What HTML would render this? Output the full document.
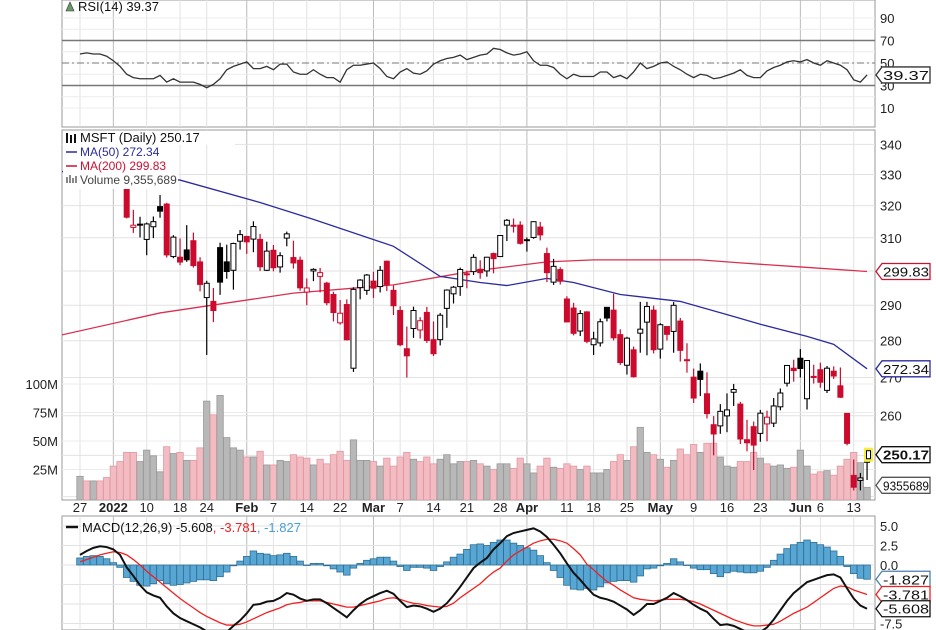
<!DOCTYPE html>
<html><head><meta charset="utf-8">
<style>
html,body{margin:0;padding:0;background:#fff;}
svg{display:block;font-family:"Liberation Sans",Arial,sans-serif;}
</style></head>
<body>
<svg id="chart" width="936" height="630" viewBox="0 0 936 630">
<defs>
<clipPath id="cpPrice"><rect x="62" y="130" width="813" height="370"/></clipPath>
<clipPath id="cpMacd"><rect x="62" y="516" width="813" height="114"/></clipPath>
<clipPath id="cpRsi"><rect x="62" y="0" width="813" height="127"/></clipPath>
</defs>
<g id="grid"></g>
<g id="rsiG"></g>
<g id="volG" clip-path="url(#cpPrice)"></g>
<g id="maG" clip-path="url(#cpPrice)"></g>
<g id="candleG" clip-path="url(#cpPrice)"></g>
<g id="macdG"></g>
<g id="axisG"></g>
<g id="legendG"></g>
</svg>
<script>
// ---------- DATA ----------
const opens=[335.5,343.2,341.3,341.9,338.5,335.4,334.8,325.9,313.2,314.2,309.5,313.4,319.7,320.5,304.3,304.1,306.3,309.1,302.7,292.2,291.1,307.0,302.7,300.2,308.95,310.4,309.6,309.5,300.2,306.2,301.2,309.9,304.0,303.2,293.8,300.0,298.4,296.4,293.1,285.0,290.2,272.5,295.1,294.3,297.0,295.4,302.9,294.3,288.5,277.8,283.4,283.0,287.96,280.3,280.3,289.1,293.3,295.4,298.9,299.8,300.5,300.0,305.2,304.3,313.9,313.8,313.9,309.4,310.1,313.3,305.2,296.7,300.4,291.8,289.2,282.7,288.1,278.9,279.4,289.4,288.6,281.7,273.3,277.5,282.1,285.2,288.6,277.7,283.96,282.6,285.5,274.8,270.1,271.7,265.7,257.7,257.4,259.96,266.1,263.0,253.9,257.2,255.5,257.9,258.1,262.3,268.5,272.5,275.2,264.4,270.3,272.1,266.6,271.7,267.8,260.6,245.1,243.9,248.3];
const highs=[342.5,343.8,344.3,343.1,339.4,338.0,335.2,326.1,318.7,316.5,314.7,316.6,323.4,320.9,310.8,309.8,313.9,311.6,304.1,297.1,294.99,308.5,307.9,308.5,312.4,310.6,315.1,311.2,308.8,307.8,305.6,311.9,309.1,304.3,297.8,300.8,300.9,296.8,293.9,291.5,291.7,295.2,297.6,299.1,299.8,301.5,303.1,295.7,289.7,283.96,289.6,286.6,289.5,285.4,287.8,294.6,295.6,301.0,300.1,305.0,303.2,304.2,305.5,310.8,315.8,315.95,315.1,310.1,315.1,314.9,307.0,303.6,301.1,292.6,290.7,288.6,288.3,282.5,286.2,289.4,293.3,283.2,281.1,278.4,290.97,290.98,289.9,284.9,284.1,290.9,286.4,279.3,272.4,273.8,271.4,259.9,263.0,265.8,268.3,263.6,258.95,258.5,261.5,261.3,264.6,267.1,273.3,274.8,277.7,274.65,273.45,274.0,273.1,273.0,272.7,260.6,249.0,245.7,251.8];
const lows=[335.4,340.3,339.7,338.8,335.9,329.8,326.1,315.98,311.5,310.1,304.7,309.9,316.2,304.0,303.8,301.7,302.7,301.0,294.0,276.1,285.2,293.0,297.7,294.5,306.4,305.1,305.6,299.96,299.97,299.9,299.5,307.4,300.7,294.2,290.0,297.0,293.7,290.0,285.4,284.5,280.1,271.5,291.7,293.0,292.1,293.7,294.1,287.2,278.5,270.0,280.8,280.6,279.4,275.8,278.7,283.6,290.5,292.7,294.9,298.8,297.7,298.3,299.3,304.3,309.0,311.6,307.9,305.8,309.7,309.2,296.7,295.9,296.0,285.2,281.5,281.3,279.3,276.1,278.4,285.4,280.1,273.4,270.8,270.0,276.7,276.0,276.5,275.1,280.1,276.7,274.3,271.3,263.3,265.1,259.3,250.0,255.4,255.8,262.5,252.8,251.0,246.4,253.4,253.5,257.1,261.4,267.6,268.9,270.0,261.6,268.4,267.3,265.9,269.6,264.6,252.5,241.5,241.5,244.0];
const closes=[342.45,341.25,341.95,339.32,336.32,334.75,329.01,316.38,313.88,314.04,314.27,314.98,318.27,304.80,310.20,302.65,303.33,301.60,296.03,296.37,288.49,296.71,299.84,308.26,310.98,308.76,313.46,301.25,305.94,300.95,304.56,311.21,302.38,295.04,295.00,300.47,299.50,290.73,287.93,287.72,280.27,294.59,297.31,298.79,294.95,300.19,295.92,289.86,278.91,275.85,288.50,285.59,280.07,276.44,287.15,294.39,295.22,300.43,299.16,304.06,299.49,304.10,303.68,310.70,315.41,313.86,308.31,309.42,314.97,310.88,299.50,301.37,296.97,285.26,282.06,287.62,279.83,280.52,285.30,286.36,280.81,274.03,280.72,270.22,283.22,289.63,277.52,284.47,281.78,289.98,277.35,274.73,264.58,269.50,260.55,255.35,261.12,261.50,266.82,254.08,253.14,252.56,260.65,259.62,262.52,265.90,273.24,271.87,272.42,274.58,270.02,268.75,272.50,270.41,264.79,252.99,242.26,244.49,250.17];
const volumes=[19,15,15,15,18,28,32,40,40,32,42,37,23,45,39,40,33,33,44,85,73,90,53,44,42,36,36,41,29,29,33,32,38,36,35,29,34,30,38,41,33,51,33,33,32,28,35,28,36,40,34,32,36,30,34,38,30,32,32,33,30,28,25,30,30,26,35,30,22,28,35,27,26,30,28,25,28,22,22,25,32,38,33,45,62,40,38,34,27,33,43,38,47,40,48,48,36,28,27,32,32,40,35,30,28,29,26,27,42,28,21,23,24,20,28,34,40,31,9.36];
const ma50Idx=[-3,15,27,35,47,54,60,64,70,74,81,90,98,102,109,113,118];
const ma50Val=[331,328.2,321.0,315.7,307.4,298.4,296.6,295.7,297.8,296.6,293.1,291.1,286.8,284.6,281.2,279.0,272.34];
const ma200Idx=[-3,12,32,47,59,64,70,77,93,99,108,118];
const ma200Val=[281.5,287.8,293.5,295.9,300.0,301.2,302.7,303.3,303.3,302.4,301.2,299.83];
const rsiVals=[58,59,58,58,56,52,47,40,37,36,36,36,39,33,36,33,33,33,31,28,31,36,44,47,49,51,45,45,47,44,49,49,42,40,40,44,40,37,37,33,44,48,48,49,50,45,38,36,42,45,41,40,43,49,52,54,55,57,53,55,57,58,63,62,59,57,58,60,52,48,48,46,40,36,40,38,38,38,42,42,37,39,36,42,50,45,47,50,51,47,44,40,37,40,39,36,37,39,41,44,39,37,37,43,46,48,51,52,51,53,50,48,52,50,48,44,35,33,39.37];
const macdVals=[1.3,1.8,2.2,2.4,2.3,2.0,1.3,-0.3,-1.4,-2.6,-3.5,-3.9,-4.2,-5.3,-6.2,-6.8,-7.2,-7.6,-8.0,-8.5,-9.0,-8.9,-8.6,-7.8,-7.1,-6.2,-5.1,-5.0,-4.7,-4.6,-4.2,-3.6,-3.8,-4.3,-4.6,-4.4,-4.4,-4.9,-5.5,-6.1,-6.7,-5.8,-5.0,-4.4,-4.0,-3.6,-3.3,-3.7,-4.6,-5.4,-5.2,-5.3,-5.6,-6.0,-5.6,-4.9,-3.9,-2.8,-1.6,-0.4,0.3,0.9,2.0,2.8,3.7,4.1,4.3,4.5,4.7,4.3,3.6,2.6,1.5,0.2,-1.0,-1.9,-2.9,-3.8,-4.2,-4.4,-4.7,-5.2,-5.7,-6.4,-5.8,-5.0,-5.0,-4.6,-4.2,-3.6,-4.0,-4.5,-5.1,-5.6,-6.0,-6.9,-7.7,-7.6,-7.8,-8.2,-8.6,-8.8,-8.6,-8.0,-7.0,-5.8,-4.6,-3.6,-2.9,-2.2,-1.9,-1.6,-1.3,-1.2,-1.6,-3.0,-4.3,-5.2,-5.608];
const signalVals=[0.4,0.7,1.0,1.3,1.5,1.7,1.6,1.3,0.7,0.0,-0.8,-1.5,-2.2,-2.9,-3.6,-4.3,-4.9,-5.5,-6.1,-6.6,-7.0,-7.4,-7.7,-7.7,-7.6,-7.3,-6.9,-6.5,-6.1,-5.8,-5.5,-5.1,-4.9,-4.8,-4.6,-4.6,-4.6,-4.8,-5.0,-5.2,-5.4,-5.4,-5.2,-5.0,-4.8,-4.6,-4.3,-4.2,-4.4,-4.7,-4.9,-5.0,-5.2,-5.3,-5.4,-5.3,-4.9,-4.2,-3.6,-3.0,-2.4,-1.6,-0.9,-0.4,0.5,1.3,1.8,2.3,2.8,3.1,3.3,3.3,3.1,2.8,2.1,1.3,0.1,-0.6,-1.4,-2.1,-2.6,-3.2,-3.7,-4.2,-4.4,-4.5,-4.6,-4.5,-4.4,-4.4,-4.4,-4.5,-4.7,-5.0,-5.4,-5.8,-6.2,-6.6,-7.0,-7.3,-7.6,-7.8,-7.8,-7.7,-7.6,-7.2,-6.7,-6.2,-5.8,-5.4,-4.8,-4.2,-3.6,-3.0,-2.7,-2.8,-3.2,-3.5,-3.781];
const tickIdx=[0,5,10,15,19,25,29,34,39,44,48,53,58,63,67,73,77,82,87,92,97,102,108,111,116];
const tickLabels=["27","2022","10","18","24","Feb","7","14","22","Mar","7","14","21","28","Apr","11","18","25","May","9","16","23","Jun","6","13"];
const monthTicks=[5,25,44,67,87,108];
const priceTicks=[340,330,320,310,300,290,280,270,260,250,240];
const volTicks=[25,50,75,100];
const rsiTicks=[90,70,50,30,10];
const macdTicks=[5,2.5,0,-2.5,-5,-7.5];

// ---------- SCALES ----------
const L=62,R=875;
const xi=i=>80+i*6.67;
const yP=p=>6040.9-1011.6*Math.log(p);
const yV=v=>498-v*1.14;
const yR=r=>63-(r-50)*1.125;
const yM=m=>565-m*7.8;
const NS="http://www.w3.org/2000/svg";
function mk(tag,attrs,parent){const e=document.createElementNS(NS,tag);for(const k in attrs)e.setAttribute(k,attrs[k]);parent.appendChild(e);return e;}
const G=id=>document.getElementById(id);
const grid=G('grid'),axis=G('axisG');

// ---------- GRID ----------
// panel frames
[[0,127],[130,500],[516,630]].forEach(([t,b])=>{
  const r=mk('rect',{x:L,y:t,width:R-L,height:b-t,fill:'#fff',stroke:'#999','stroke-width':1},grid);
  
  
});
// vertical gridlines
tickIdx.forEach(i=>{
  const dark=monthTicks.includes(i);
  [[0,127],[130,500],[516,630]].forEach(([t,b])=>{
    const l=mk('line',{x1:xi(i),x2:xi(i),y1:t,y2:b,stroke:dark?'#bbb':'#e2e2e2','stroke-width':1},grid);
    
    
  });
});
// horizontal price gridlines
priceTicks.forEach(p=>{const y=yP(p);if(y>130&&y<500){const l=mk('line',{x1:L,x2:R,y1:y,y2:y,stroke:'#e2e2e2'},grid);
  
  }});
volTicks.forEach(v=>{const y=yV(v);const l=mk('line',{x1:L,x2:R,y1:y,y2:y,stroke:'#ececec'},grid);
  
  });
for(let r=10;r<=90;r+=10){const l=mk('line',{x1:L,x2:R,y1:yR(r),y2:yR(r),stroke:'#ececec'},grid);
  
  }
macdTicks.forEach(m=>{const l=mk('line',{x1:L,x2:R,y1:yM(m),y2:yM(m),stroke:'#e2e2e2'},grid);
  
  });

// ---------- RSI ----------
const rsiG=G('rsiG');
[70,30].forEach(v=>{const l=mk('line',{x1:L,x2:R,y1:yR(v),y2:yR(v),stroke:'#777','stroke-width':1.4},rsiG);
  
  });
const l50=mk('line',{x1:L,x2:R,y1:yR(50),y2:yR(50),stroke:'#777','stroke-dasharray':'7,3,2,3'},rsiG);


const rsiPath=mk('polyline',{points:rsiVals.map((v,i)=>xi(i)+','+yR(v)).join(' '),fill:'none',stroke:'#333','stroke-width':1.3,'clip-path':'url(#cpRsi)'},rsiG);



// ---------- VOLUME ----------
const volG=G('volG');
volumes.forEach((v,i)=>{
  const up=i===0?closes[i]>=opens[i]:closes[i]>=closes[i-1];
  const b=mk('rect',{x:xi(i)-3.2,y:yV(v),width:6.4,height:498-yV(v)+2,fill:up?'#b8b8b8':'#f2bcc2',stroke:up?'#999':'#e09aa3','stroke-width':0.8},volG);
  
  
});

// ---------- MOVING AVERAGES ----------
const maG=G('maG');
const m200=mk('polyline',{points:ma200Idx.map((d,k)=>xi(d)+','+yP(ma200Val[k])).join(' '),fill:'none',stroke:'#d9304f','stroke-width':1.3},maG);


const m50=mk('polyline',{points:ma50Idx.map((d,k)=>xi(d)+','+yP(ma50Val[k])).join(' '),fill:'none',stroke:'#2b2ba0','stroke-width':1.3},maG);



// ---------- CANDLES ----------
const cg=G('candleG');
closes.forEach((c,i)=>{
  const o=opens[i],h=highs[i],lo=lows[i];
  const prev=i===0?o:closes[i-1];
  const col=c<prev?'#cc0a2d':'#000';
  const filled=c<o;
  const x=xi(i);
  const w=mk('line',{x1:x,x2:x,y1:yP(h),y2:yP(lo),stroke:col,'stroke-width':1.2},cg);
  
  
  const top=yP(Math.max(o,c)),bot=yP(Math.min(o,c));
  const b=mk('rect',{x:x-2.5,y:top,width:5,height:Math.max(1,bot-top),fill:filled?col:'#fff',stroke:col,'stroke-width':1},cg);
  
  
});

// ---------- MACD ----------
const mg=G('macdG');
const hg=mk('g',{'clip-path':'url(#cpMacd)'},mg);
macdVals.forEach((m,i)=>{
  const h=m-signalVals[i];
  const y0=yM(0),y1=yM(h);
  const b=mk('rect',{x:xi(i)-3.3,y:Math.min(y0,y1),width:6.6,height:Math.max(0.5,Math.abs(y1-y0)),fill:'#58a6d3',stroke:'#2e6f95','stroke-width':0.8},hg);
  
  
});
const sig=mk('polyline',{points:signalVals.map((v,i)=>xi(i)+','+yM(v)).join(' '),fill:'none',stroke:'#f02020','stroke-width':1.3},hg);


const mac=mk('polyline',{points:macdVals.map((v,i)=>xi(i)+','+yM(v)).join(' '),fill:'none',stroke:'#111','stroke-width':2},hg);



// ---------- AXES ----------
function txt(s,x,y,attrs,name){const t=mk('text',Object.assign({x:x,y:y,'font-size':13,fill:'#222'},attrs||{}),axis);t.textContent=s;
  
  return t;}
tickIdx.forEach((i,k)=>{
  const bold=monthTicks.includes(i);
  txt(tickLabels[k],xi(i),512,{'text-anchor':'middle','font-weight':bold?'bold':'normal','font-size':13},'x-tick-label');
});
rsiTicks.forEach(r=>txt(String(r),880,yR(r)+5,{},'rsi-tick-label'));
priceTicks.forEach(p=>{const y=yP(p);if(y>134&&y<500&&p!==300&&p!==250&&p!==240)txt(String(p),880,y+5,{},'price-tick-label');});
volTicks.forEach(v=>txt(v+'M',58,yV(v)+5,{'text-anchor':'end'},'volume-tick-label'));
macdTicks.forEach(m=>txt(m.toFixed(1),880,yM(m)+5,{},'macd-tick-label'));

// value tags
function tag(label,y,color,bold,name){
  const p=mk('path',{d:`M876 ${y} L882 ${y-8} L930 ${y-8} L930 ${y+8} L882 ${y+8} Z`,fill:'#fff',stroke:color,'stroke-width':1.3},axis);
  
  
  txt(label,883,y+5,{'font-size':13,'font-weight':bold?'bold':'normal',fill:'#111',textLength:46,lengthAdjust:'spacingAndGlyphs'},name);
}
tag('39.37',yR(39.37),'#333',false,'rsi-value-tag');
tag('299.83',yP(299.83),'#cc1133',false,'ma200-value-tag');
tag('272.34',yP(272.34),'#2b2ba0',false,'ma50-value-tag');
tag('250.17',yP(250.17),'#111',true,'price-value-tag');
tag('9355689',yV(9.36)-2,'#555',false,'volume-value-tag');
tag('-1.827',yM(-1.827),'#4a7fb0',false,'macd-hist-value-tag');
tag('-3.781',yM(-3.781),'#f02020',false,'macd-signal-value-tag');
tag('-5.608',yM(-5.608),'#111',false,'macd-value-tag');
// yellow current candle marker
const yc=mk('rect',{x:864,y:yP(250.17)-7,width:9,height:14,fill:'#f5ef3a'},axis);


const yb=mk('rect',{x:866.5,y:yP(250.17)-4,width:4,height:8,fill:'#fff',stroke:'#000'},axis);



// ---------- LEGEND ----------
const lg=G('legendG');
const bg1=mk('rect',{x:63,y:131,width:115,height:58,fill:'#fff'},lg);


const bg2=mk('rect',{x:63,y:131,width:172,height:14,fill:'#fff'},lg);


function ltxt(s,x,y,fill,size,name){const t=mk('text',{x:x,y:y,'font-size':size,fill:fill},lg);t.textContent=s;
  
  return t;}
ltxt('MSFT (Daily) 250.17',80,142,'#111',13,'legend-price');
ltxt('MA(50) 272.34',80,156,'#2b2ba0',12,'legend-ma50');
ltxt('MA(200) 299.83',80,170,'#cc1133',12,'legend-ma200');
ltxt('Volume 9,355,689',80,184,'#444',12,'legend-volume');
const ci=mk('path',{d:'M67 133v10M71 135v8M75 134v9',stroke:'#111','stroke-width':2},lg);


mk('line',{x1:66,x2:77,y1:152,y2:152,stroke:'#2b2ba0','stroke-width':1.5},lg);
mk('line',{x1:66,x2:77,y1:166,y2:166,stroke:'#cc1133','stroke-width':1.5},lg);
const vi=mk('path',{d:'M67 183v-6M70 183v-8M73 183v-5M76 183v-7',stroke:'#888','stroke-width':2},lg);


const ri=mk('path',{d:'M66 11 L70 2 L74 11 Z',fill:'#6a9a6a',stroke:'#333','stroke-width':0.6},lg);


ltxt('RSI(14) 39.37',78,11,'#111',13,'legend-rsi');
const mt=mk('text',{x:82,y:532,'font-size':13,fill:'#111'},lg);


mt.innerHTML='MACD(12,26,9) -5.608<tspan fill="#f02020">, -3.781</tspan><tspan fill="#4aa0d0">, -1.827</tspan>';
const mi=mk('line',{x1:66,x2:78,y1:527,y2:527,stroke:'#111','stroke-width':2.5},lg);


</script>
</body></html>
